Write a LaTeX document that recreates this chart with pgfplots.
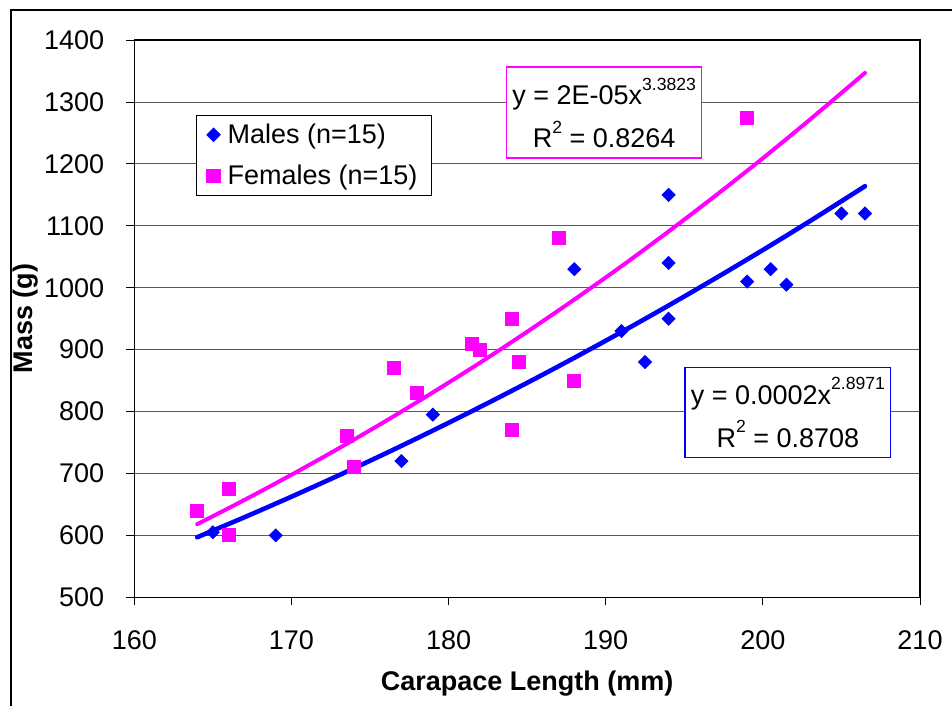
\documentclass[border=0pt]{standalone}
\usepackage{fontspec}
\setmainfont{Liberation Sans}
\usepackage{pgfplots}
\pgfplotsset{compat=1.18}
\definecolor{mblue}{RGB}{0,0,255}
\definecolor{fpink}{RGB}{255,0,255}
\newcommand{\sus}[1]{\raisebox{0.52em}{\fontsize{8.8}{8.8}\selectfont #1}}
\begin{document}
\begin{tikzpicture}
\useasboundingbox (0pt,0pt) rectangle (476pt,353pt);
\draw[black, line width=0.6pt] (5.5pt,0pt) -- (5.5pt,348pt) -- (476pt,348pt);
\begin{axis}[
  at={(67.15pt,54.35pt)}, anchor=south west,
  width=392.85pt, height=278.6pt, scale only axis,
  xmin=160, xmax=210, ymin=500, ymax=1400,
  xtick={160,170,...,210}, ytick={500,600,...,1400},
  /pgf/number format/.cd, 1000 sep={}, assume math mode=true, /pgfplots/.cd,
  tick align=outside, tick pos=left, major tick length=4pt,
  tick style={black, line width=0.5pt},
  axis line style={black, line width=0.6pt},
  ymajorgrids, grid style={black!65, line width=0.5pt},
  tick label style={font=\fontsize{13.5}{16}\selectfont},
  xticklabel style={yshift=-9pt},
  yticklabel style={xshift=-7.5pt},
  xlabel={Carapace Length (mm)}, ylabel={Mass (g)},
  label style={font=\bfseries\fontsize{13.5}{16}\selectfont},
  xlabel style={at={(axis description cs:0.5,-0.1556)}, anchor=center},
  ylabel style={at={(axis description cs:-0.1378,0.5)}, anchor=center},
  legend style={at={(axis description cs:0.0785,0.8657)}, anchor=north west,
    draw=black, line width=0.6pt, fill=white, font=\fontsize{13.5}{16}\selectfont,
    inner xsep=0pt, inner ysep=2pt, row sep=5.5pt},
  legend cell align=left,
  legend image code/.code={\path[draw=none,fill=none] (0pt,0pt) -- (13.5pt,0pt); \draw[#1] plot coordinates {(8.5pt,0pt)};},
]
\addplot[only marks, mark=diamond*, mark size=3.25pt, color=mblue, mark options={xscale=1.333, fill=mblue, draw=mblue}] coordinates {
(165,605) (169,600) (177,720) (179,795) (188,1030) (191,930) (192.5,880)
(194,1150) (194,1040) (194,950) (199,1010) (200.5,1030) (201.5,1005)
(205,1120) (206.5,1120)
};
\addlegendentry{Males (n=15)}
\addplot[only marks, mark=square*, mark size=3.25pt, color=fpink, mark options={fill=fpink, draw=fpink}] coordinates {
(164,640) (166,675) (166,600) (173.5,760) (174,710) (176.5,870) (178,830)
(181.5,910) (182,900) (184,950) (184.5,880) (184,770) (187,1080) (188,850)
(199,1275)
};
\addlegendentry{Females (n=15)\kern5pt}
\addplot[forget plot, fpink, line width=2pt, smooth, line cap=round] coordinates {
(164,618) (167,657.1) (170,697.9) (173,740.4) (176,784.7) (179,830.9)
(182,878.9) (185,928.9) (188,980.9) (191,1034.7) (194,1090.9) (197,1149.0)
(200,1209.2) (203,1271.7) (206.5,1347)
};
\addplot[forget plot, mblue, line width=2.3pt, smooth, line cap=round] coordinates {
(164,597) (167,629.2) (170,662.5) (173,696.9) (176,732.5) (179,769.3)
(182,807.3) (185,846.4) (188,886.8) (191,928.4) (194,971.3) (197,1015.5)
(200,1060.9) (203,1107.7) (206.5,1164)
};
\node[draw=fpink, line width=0.7pt, fill=white, inner sep=0pt, minimum width=97.5pt, minimum height=45.5pt, align=center, font=\fontsize{13.5}{21.5}\selectfont]
  at (axis description cs:0.598,0.8697) {y = 2E-05x\sus{3.3823}\\R\sus{2} = 0.8264};
\node[draw=mblue, line width=0.7pt, fill=white, inner sep=0pt, minimum width=102.8pt, minimum height=45.2pt, align=center, font=\fontsize{13.5}{21.5}\selectfont]
  at (axis description cs:0.8319,0.3317) {y = 0.0002x\sus{2.8971}\\R\sus{2} = 0.8708};
\end{axis}
\end{tikzpicture}
\end{document}
